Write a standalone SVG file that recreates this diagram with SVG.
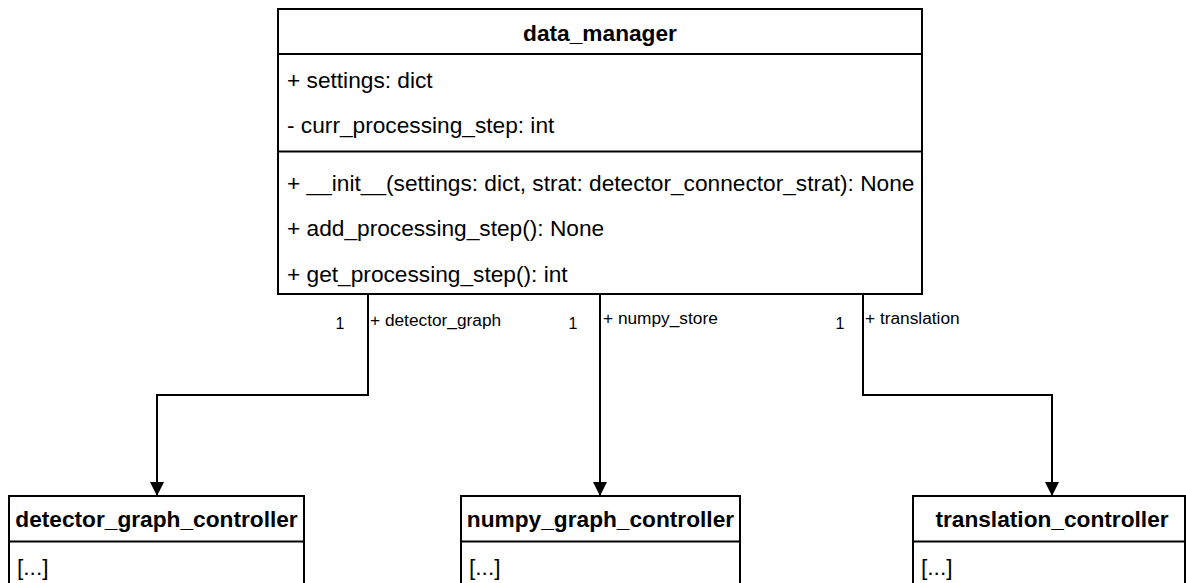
<svg xmlns="http://www.w3.org/2000/svg" width="1186" height="583" viewBox="0 0 1186 583">
<defs>
<style>
.box{fill:#ffffff;stroke:#000000;stroke-width:2}
.sep{stroke:#000000;stroke-width:2}
.t{font-family:"Liberation Sans",Arial,sans-serif;font-size:22.7px;fill:#000}
.tb{font-family:"Liberation Sans",Arial,sans-serif;font-size:22.7px;font-weight:bold;fill:#000;text-anchor:middle}
.lbl{font-family:"Liberation Sans",Arial,sans-serif;font-size:17.3px;fill:#000}
.num{font-family:"Liberation Sans",Arial,sans-serif;font-size:16px;fill:#000;text-anchor:middle}
.edge{fill:none;stroke:#000;stroke-width:2}
</style>
<marker id="arr" markerWidth="14" markerHeight="14" refX="14" refY="7" orient="auto" markerUnits="userSpaceOnUse">
<path d="M0,0 L14,7 L0,14 Z" fill="#000"/>
</marker>
</defs>
<rect width="1186" height="583" fill="#ffffff"/>
<g id="connectors">
<path class="edge" d="M368,294 V395 H157 V496" marker-end="url(#arr)"/>
<path class="edge" d="M600,294 V496" marker-end="url(#arr)"/>
<path class="edge" d="M863,294 V395 H1052 V496" marker-end="url(#arr)"/>
<text class="num" x="340" y="329">1</text>
<text class="lbl" x="370" y="326">+ detector_graph</text>
<text class="num" x="573" y="329">1</text>
<text class="lbl" x="603" y="324">+ numpy_store</text>
<text class="num" x="840" y="329">1</text>
<text class="lbl" x="865" y="324">+ translation</text>
</g>
<g id="data_manager">
<rect class="box" x="278" y="9" width="644" height="285"/>
<line class="sep" x1="278" y1="54" x2="922" y2="54"/>
<line class="sep" x1="278" y1="151.5" x2="922" y2="151.5"/>
<text class="tb" x="600" y="41">data_manager</text>
<text class="t" x="287" y="88">+ settings: dict</text>
<text class="t" x="287" y="133">- curr_processing_step: int</text>
<text class="t" x="287" y="191">+ __init__(settings: dict, strat: detector_connector_strat): None</text>
<text class="t" x="287" y="236">+ add_processing_step(): None</text>
<text class="t" x="287" y="282">+ get_processing_step(): int</text>
</g>
<g id="detector_graph_controller">
<rect class="box" x="9" y="496" width="295" height="120"/>
<line class="sep" x1="9" y1="541.5" x2="304" y2="541.5"/>
<text class="tb" x="156.5" y="527">detector_graph_controller</text>
<text class="t" x="17" y="575">[...]</text>
</g>
<g id="numpy_graph_controller">
<rect class="box" x="461" y="496" width="279" height="120"/>
<line class="sep" x1="461" y1="541.5" x2="740" y2="541.5"/>
<text class="tb" x="600.5" y="527">numpy_graph_controller</text>
<text class="t" x="469" y="575">[...]</text>
</g>
<g id="translation_controller">
<rect class="box" x="913" y="496" width="272" height="120"/>
<line class="sep" x1="913" y1="541.5" x2="1185" y2="541.5"/>
<text class="tb" x="1052" y="527">translation_controller</text>
<text class="t" x="921" y="575">[...]</text>
</g>
</svg>
